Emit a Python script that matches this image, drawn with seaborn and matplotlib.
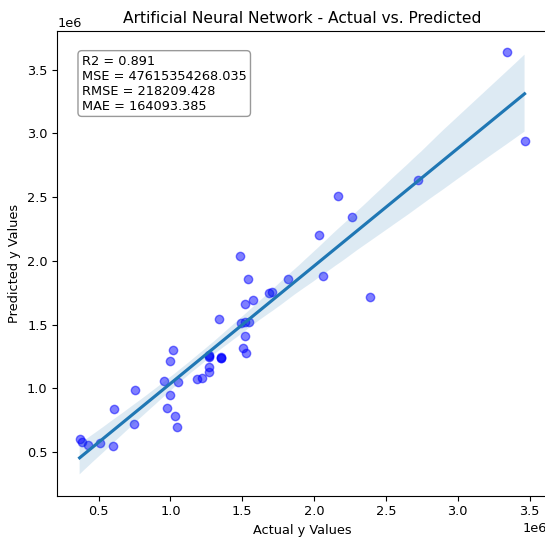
import matplotlib
matplotlib.use("Agg")
import matplotlib.pyplot as plt
import seaborn as sns
import pandas as pd

# Actual vs. predicted target values (units of 1e6)
actual_m = [0.368, 0.387, 0.426, 0.509, 0.597, 0.609, 0.745, 0.755, 0.953, 0.998,
            1.019, 1.056, 0.998, 0.979, 1.030, 1.049, 1.185, 1.219, 1.271, 1.271,
            1.267, 1.270, 1.268, 1.354, 1.354, 1.354, 1.337, 1.490, 1.521, 1.545,
            1.521, 1.507, 1.524, 1.521, 1.574, 1.542, 1.484, 1.683, 1.710, 1.819,
            2.035, 2.059, 2.169, 2.266, 2.389, 2.724, 3.340, 3.465]
predicted_m = [0.600, 0.581, 0.555, 0.573, 0.545, 0.837, 0.722, 0.984, 1.062, 1.213,
               1.302, 1.049, 0.952, 0.845, 0.784, 0.696, 1.072, 1.084, 1.170, 1.131,
               1.244, 1.265, 1.256, 1.241, 1.243, 1.239, 1.546, 1.511, 1.521, 1.521,
               1.413, 1.321, 1.281, 1.664, 1.697, 1.858, 2.042, 1.748, 1.756, 1.858,
               2.201, 1.879, 2.506, 2.347, 1.719, 2.632, 3.635, 2.937]

metric_lines = ["R2 = 0.891", "MSE = 47615354268.035",
                "RMSE = 218209.428", "MAE = 164093.385"]

df = pd.DataFrame({"actual": [v * 1e6 for v in actual_m],
                   "predicted": [v * 1e6 for v in predicted_m]})

plt.rcParams["font.size"] = 9.3

fig = plt.figure(figsize=(5.45, 5.41), dpi=100)
ax = fig.add_axes([0.1053, 0.0841, 0.898, 0.858])

sns.regplot(data=df, x="actual", y="predicted", ax=ax, seed=0,
            scatter_kws={"color": "blue", "alpha": 0.5, "s": 36})

ax.set_title("Artificial Neural Network - Actual vs. Predicted", fontsize=11.2)
ax.set_xlabel("Actual y Values")
ax.set_ylabel("Predicted y Values")

ax.text(0.05, 0.95, "\n".join(metric_lines), transform=ax.transAxes,
        fontsize=9.3, va="top", ha="left",
        bbox=dict(boxstyle="round", facecolor="white", edgecolor="gray", alpha=0.8))

fig.savefig("out.png", dpi=100)
